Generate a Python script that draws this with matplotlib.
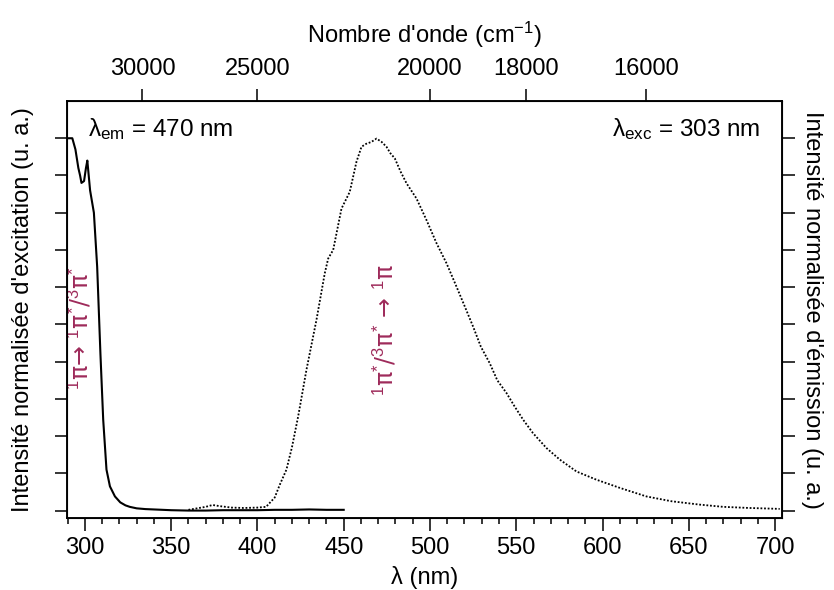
import matplotlib
matplotlib.use("Agg")
import matplotlib.pyplot as plt
from matplotlib.ticker import MultipleLocator, FixedLocator, NullFormatter

plt.rcParams['font.family'] = ['Liberation Sans', 'DejaVu Sans']
plt.rcParams['mathtext.fontset'] = 'custom'
plt.rcParams['mathtext.rm'] = 'Liberation Sans'
plt.rcParams['mathtext.it'] = 'Liberation Sans'
plt.rcParams['mathtext.bf'] = 'Liberation Sans'

# Excitation spectrum (lambda_em = 470 nm)
exc_wl = [290, 292.7, 294.5, 296.2, 297.2, 298.0, 299.5, 300.6, 301.4, 302.2, 303.0,
          305.2, 307.1, 309.0, 310.6, 312.5, 314.5, 317.4, 320.5, 323.5, 326, 330,
          335, 340, 350, 360, 370, 380, 390, 400, 410, 420, 430, 440, 450]
exc_int = [1.0, 1.0, 0.97, 0.92, 0.90, 0.88, 0.885, 0.92, 0.94, 0.90, 0.86,
           0.80, 0.655, 0.42, 0.244, 0.11, 0.065, 0.038, 0.022, 0.014, 0.010, 0.006,
           0.004, 0.003, 0.001, 0.0, 0.0, 0.001, 0.001, 0.001, 0.002, 0.002, 0.003, 0.002, 0.002]

# Emission spectrum (lambda_exc = 303 nm)
em_wl = [360, 365, 370, 374, 378, 385, 392, 400, 405, 410, 413, 416.8, 420, 423.6,
         428.4, 434.2, 439, 441, 443.9, 448.7, 453.5, 457.4, 460.3, 463, 466, 469,
         472, 474.8, 477, 479.6, 483, 486.4, 492.2, 498, 503.8, 509.6, 515.4, 520,
         525, 529.5, 534.6, 539, 544.3, 549, 554, 559.7, 567.5, 575.2, 584.9, 596.4,
         610, 625.4, 640, 656.3, 670, 685, 702.7]
em_int = [0.002, 0.006, 0.010, 0.015, 0.012, 0.008, 0.007, 0.008, 0.010, 0.035, 0.07,
          0.11, 0.17, 0.253, 0.378, 0.512, 0.637, 0.677, 0.70, 0.811, 0.856, 0.937,
          0.977, 0.985, 0.99, 0.999, 0.99, 0.977, 0.96, 0.946, 0.91, 0.879, 0.838,
          0.78, 0.718, 0.664, 0.601, 0.55, 0.494, 0.44, 0.396, 0.35, 0.316, 0.28,
          0.244, 0.208, 0.168, 0.137, 0.105, 0.083, 0.061, 0.038, 0.025, 0.016, 0.010,
          0.007, 0.0045]

top_ticks = [30000, 25000, 20000, 18000, 16000]
top_labels = ['30000', '25000', '20000', '18000', '16000']

FS = 17

fig = plt.figure(figsize=(8.34, 5.90), dpi=100)
ax = fig.add_axes([0.0803, 0.122, 0.8573, 0.7068])

ax.plot(exc_wl, exc_int, color='black', lw=1.5)
ax.set_xlim(289.6, 704)
ax.set_ylim(-0.02, 1.1)

ax.xaxis.set_major_locator(MultipleLocator(50))
ax.xaxis.set_minor_locator(MultipleLocator(10))
ax.yaxis.set_major_locator(FixedLocator([i / 10 for i in range(11)]))
ax.yaxis.set_major_formatter(NullFormatter())
ax.tick_params(axis='x', which='major', direction='out', length=9, width=1.1, labelsize=FS, pad=5)
ax.tick_params(axis='x', which='minor', direction='out', length=4.5, width=1.1)
ax.tick_params(axis='y', which='major', direction='out', length=9, width=1.1)
ax.set_xlabel('λ (nm)', fontsize=FS, labelpad=5)
ax.set_ylabel("Intensité normalisée d'excitation (u. a.)", fontsize=FS, labelpad=11)
for s in ax.spines.values():
    s.set_linewidth(1.1)

axr = ax.twinx()
axr.plot(em_wl, em_int, color='black', lw=1.3, linestyle=(0, (1, 1)))
axr.set_ylim(-0.02, 1.1)
axr.yaxis.set_major_locator(FixedLocator([i / 10 for i in range(11)]))
axr.yaxis.set_major_formatter(NullFormatter())
axr.tick_params(axis='y', direction='out', length=9, width=1.1)
axr.set_ylabel("Intensité normalisée d'émission (u. a.)", fontsize=FS, rotation=-90, labelpad=17)
for s in axr.spines.values():
    s.set_linewidth(1.1)

axt = ax.twiny()
axt.set_xlim(ax.get_xlim())
axt.xaxis.set_major_locator(FixedLocator([1e7 / v for v in top_ticks]))
axt.set_xticklabels(top_labels)
axt.tick_params(axis='x', direction='out', length=9, width=1.1, labelsize=FS, pad=6)
axt.set_xlabel("Nombre d'onde (cm$^{-1}$)", fontsize=FS, labelpad=11)

ax.text(0.03, 0.965, r'λ$_{\mathrm{em}}$ = 470 nm', transform=ax.transAxes,
        fontsize=17.5, ha='left', va='top')
ax.text(0.97, 0.965, r'λ$_{\mathrm{exc}}$ = 303 nm', transform=ax.transAxes,
        fontsize=17.5, ha='right', va='top')

mag = '#9e2a5a'
ax.text(297, 0.49, r'$^{1}$π→ $^{1}$π$^{*}$/$^{3}$π$^{*}$', color=mag, fontsize=17,
        family=['DejaVu Sans'], rotation=90, ha='center', va='center')
ax.text(474, 0.485, r'$^{1}$π$^{*}$/$^{3}$π$^{*}$ → $^{1}$π', color=mag, fontsize=17,
        family=['DejaVu Sans'], rotation=90, ha='center', va='center')

fig.savefig('out.png', dpi=100)
